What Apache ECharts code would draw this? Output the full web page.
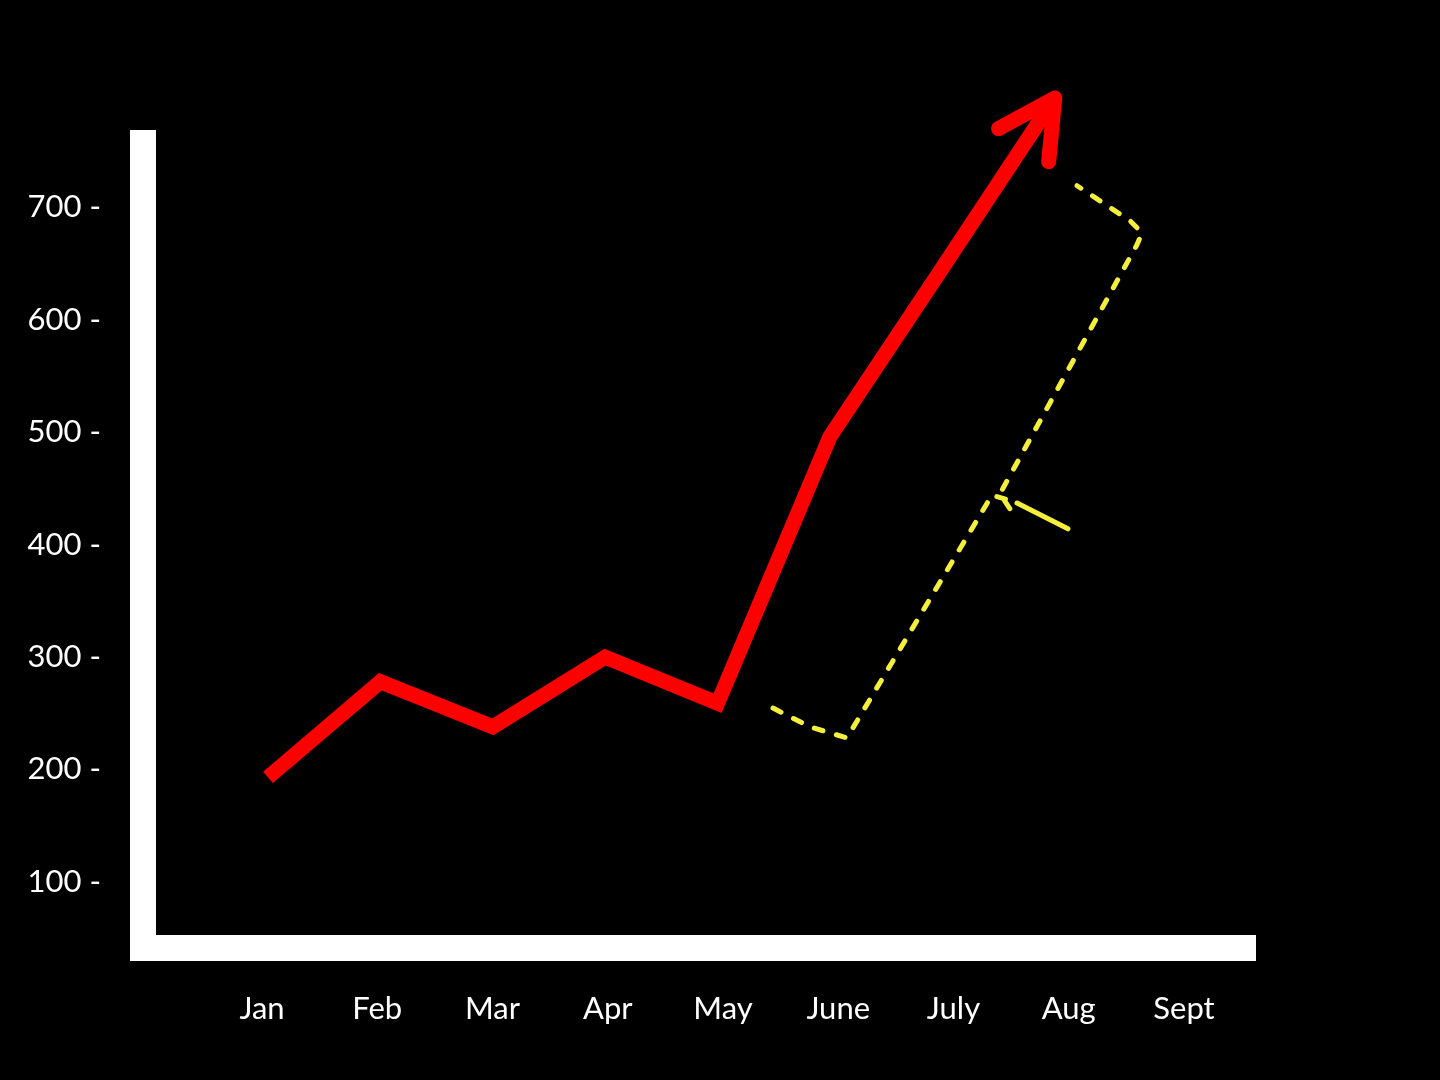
<!DOCTYPE html>
<html>
<head>
<meta charset="utf-8">
<script src="https://cdn.jsdelivr.net/npm/echarts@6/dist/echarts.min.js"></script>
<style>
  html, body { margin: 0; padding: 0; background: #000; }
  #chart { width: 1440px; height: 1080px; }
</style>
</head>
<body>
<div id="chart"></div>
<script>
// ---- data ----
const months = ['Jan', 'Feb', 'Mar', 'Apr', 'May', 'June', 'July', 'Aug', 'Sept'];
const sales = [193, 278, 238, 300, 259, 496, 646, 797];   // Jan..Aug
const yTicks = [100, 200, 300, 400, 500, 600, 700];

// yellow hand-drawn annotation (x in month index, y in value units)
const yellowLowerX = [4.493, 4.822, 5.151, 6.441, 6.620];
const yellowLowerY = [254.6, 237.9, 228.1, 444.0, 438.5];
const yellowTailX = [6.664, 7.117];
const yellowTailY = [436.9, 414.0];
const yellowUpperX = [6.600, 6.512, 7.731, 7.776, 7.669, 7.198];
const yellowUpperY = [432.0, 445.1, 666.5, 677.2, 687.9, 719.0];

const zip = (xs, ys) => xs.map((x, i) => [x, ys[i]]);
const salesPts = sales.map((v, i) => [i, v]);
const n = sales.length;
const arrowData = [[n - 2, sales[n - 2], n - 1, sales[n - 1]]];

const labelFont = { color: '#ffffff', fontSize: 31, fontFamily: 'Lato, "Open Sans", sans-serif' };
const yellow = '#f4ef3c';
const axisLineStyle = { color: '#ffffff', width: 26, cap: 'square' };

const chart = echarts.init(document.getElementById('chart'));
chart.setOption({
  backgroundColor: '#000000',
  animation: false,
  grid: { left: 143, top: 143, right: 197, bottom: 132, containLabel: false },
  xAxis: [
    {
      // data axis (carries the thick white baseline)
      type: 'value',
      min: -1.1121,
      max: 8.6744,
      axisLine: { show: true, onZero: false, lineStyle: axisLineStyle },
      axisTick: { show: false },
      splitLine: { show: false },
      axisLabel: { show: false }
    },
    {
      // month labels
      type: 'value',
      position: 'bottom',
      min: -1.0325,
      max: 8.512,
      axisLine: { show: false, onZero: false },
      axisTick: { show: false },
      splitLine: { show: false },
      axisLabel: Object.assign({
        customValues: months.map((m, i) => i),
        formatter: v => months[Math.round(v)],
        margin: 45
      }, labelFont)
    }
  ],
  yAxis: {
    type: 'value',
    min: 41.3,
    max: 757,
    axisLine: { show: true, onZero: false, lineStyle: axisLineStyle },
    axisTick: { show: false },
    splitLine: { show: false },
    axisLabel: Object.assign({
      customValues: yTicks,
      formatter: '{value} -',
      margin: 42
    }, labelFont)
  },
  series: [
    {
      type: 'line',
      data: zip(yellowLowerX, yellowLowerY),
      symbol: 'none',
      clip: false,
      lineStyle: { color: yellow, width: 5, type: [9, 14], cap: 'round' }
    },
    {
      type: 'line',
      data: zip(yellowTailX, yellowTailY),
      symbol: 'none',
      clip: false,
      lineStyle: { color: yellow, width: 5, cap: 'round' }
    },
    {
      type: 'line',
      data: zip(yellowUpperX, yellowUpperY),
      symbol: 'none',
      clip: false,
      lineStyle: { color: yellow, width: 5, type: [9, 14], cap: 'round' }
    },
    {
      type: 'line',
      data: salesPts,
      symbol: 'none',
      clip: false,
      lineStyle: { color: '#ff0000', width: 15, cap: 'butt', join: 'miter' }
    },
    {
      type: 'custom',
      clip: false,
      data: arrowData,
      encode: { x: [0, 2], y: [1, 3] },
      renderItem: function (params, api) {
        const p0 = api.coord([api.value(0), api.value(1)]);
        const p1 = api.coord([api.value(2), api.value(3)]);
        let dx = p0[0] - p1[0], dy = p0[1] - p1[1];
        const len = Math.sqrt(dx * dx + dy * dy);
        dx /= len; dy /= len;
        const a = 28 * Math.PI / 180, L = 64;
        const rot = (ang) => [p1[0] + L * (dx * Math.cos(ang) - dy * Math.sin(ang)),
                              p1[1] + L * (dx * Math.sin(ang) + dy * Math.cos(ang))];
        return {
          type: 'polyline',
          shape: { points: [rot(a), p1, rot(-a)] },
          style: { stroke: '#ff0000', lineWidth: 15, fill: null, lineCap: 'round', lineJoin: 'round' }
        };
      }
    }
  ]
});
</script>
</body>
</html>
